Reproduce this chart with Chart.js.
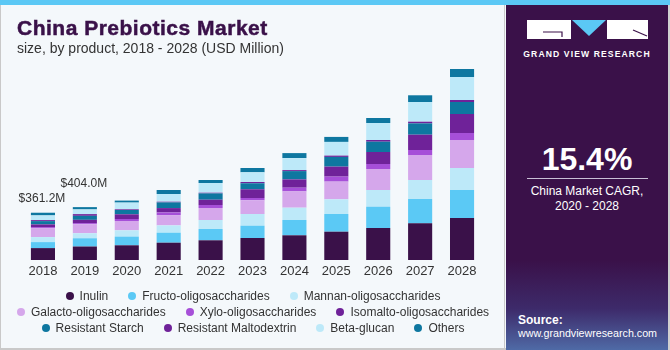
<!DOCTYPE html>
<html><head><meta charset="utf-8">
<script src="https://cdn.jsdelivr.net/npm/chart.js@4.4.1/dist/chart.umd.min.js"></script>
<style>
html,body{margin:0;padding:0;}
body{width:670px;height:350px;overflow:hidden;font-family:"Liberation Sans",Arial,sans-serif;background:#f4f8fb;}
#wrap{position:relative;width:670px;height:350px;background:#f4f8fb;}
#topbar{position:absolute;left:0;top:0;width:670px;height:5px;background:#5bc8f5;}
#lb{position:absolute;left:0;top:5px;width:1px;height:345px;background:#c9c9c9;}
#bb{position:absolute;left:0;top:348px;width:506px;height:2px;background:#c9c9c9;}
#rb{position:absolute;left:504px;top:5px;width:1px;height:345px;background:#c9c9c9;}
#title{position:absolute;left:17px;top:16px;font-size:21px;font-weight:bold;color:#3a1149;letter-spacing:0.5px;-webkit-text-stroke:0.5px #3a1149;white-space:nowrap;}
#sub{position:absolute;left:17px;top:40px;font-size:14px;color:#333;white-space:nowrap;}
#cv{position:absolute;left:0;top:0;}
#legend{position:absolute;left:8px;top:288px;width:490px;font-size:12px;color:#333;}
.row{display:flex;justify-content:center;height:16px;line-height:16px;}
.item{display:flex;align-items:center;margin:0 10px;white-space:nowrap;}
.dot{width:8px;height:8px;border-radius:50%;margin-right:6px;}
#panel{position:absolute;left:506px;top:5px;width:162px;height:345px;background:linear-gradient(to bottom,#3a1149 0%,#3a1149 74%,#3d2a6a 88%,#4f6aa6 100%);}
#rr{position:absolute;left:668px;top:5px;width:2px;height:345px;background:#d0d0d0;}
#gvr{position:absolute;left:0;top:44px;width:162px;text-align:center;color:#fff;font-size:8.6px;font-weight:bold;letter-spacing:1.1px;}
#big{position:absolute;left:0;top:136px;width:162px;text-align:center;color:#fff;font-size:32px;font-weight:bold;}
#line{position:absolute;left:21px;top:173px;width:121px;height:1px;background:#c9c0d6;}
#cagr{position:absolute;left:0;top:179px;width:162px;text-align:center;color:#fff;font-size:12px;line-height:15px;}
#src{position:absolute;left:12px;top:308px;color:#fff;font-size:12px;font-weight:bold;}
#url{position:absolute;left:12px;top:322px;color:#fff;font-size:10.7px;}
</style></head>
<body><div id="wrap">
<canvas id="cv" width="500" height="285"></canvas>
<div id="topbar"></div><div id="lb"></div><div id="bb"></div><div id="rb"></div>
<div id="title">China Prebiotics Market</div>
<div id="sub">size, by product, 2018 - 2028 (USD Million)</div>
<div id="legend"></div>
<div id="panel">
  <svg style="position:absolute;left:21px;top:15px" width="122" height="20" viewBox="0 0 122 20">
    <rect x="0" y="0" width="44" height="19" fill="#fff"/>
    <path d="M16 12 H35 V17" stroke="#3a1149" stroke-width="1.2" fill="none"/>
    <polygon points="45,0 79,0 62,16" fill="#5bc8f5"/>
    <rect x="80" y="0" width="41" height="19" fill="#fff"/>
    <path d="M106 10 L120 16" stroke="#3a1149" stroke-width="1.2" fill="none"/>
  </svg>
  <div id="gvr">GRAND VIEW RESEARCH</div>
  <div id="big">15.4%</div>
  <div id="line"></div>
  <div id="cagr">China Market CAGR,<br>2020 - 2028</div>
  <div id="src">Source:</div>
  <div id="url">www.grandviewresearch.com</div>
</div>
<div id="rr"></div>
</div>
<script>
const years = ['2018','2019','2020','2021','2022','2023','2024','2025','2026','2027','2028'];
const inulin     = [90.9, 103.0, 112.3, 132.2, 150.5, 168.1, 188.7, 216.2, 244.5, 280.4, 320.9];
const fructo     = [45.8, 63.1, 66.5, 76.4, 86.3, 94.0, 116.9, 135.2, 162.7, 185.7, 213.9];
const mannan     = [38.2, 38.2, 48.1, 55.8, 68.8, 89.4, 94.0, 112.3, 127.6, 145.2, 168.1];
const galacto    = [68.8, 69.8, 71.1, 78.7, 91.7, 104.7, 124.5, 135.2, 160.4, 191.0, 213.9];
const xylo       = [7.6, 7.6, 15.3, 20.6, 22.9, 17.6, 28.3, 38.2, 38.2, 38.2, 53.5];
const isomalto   = [20.6, 25.2, 35.9, 32.9, 40.5, 66.5, 63.4, 76.4, 91.7, 116.9, 145.2];
const resStarch  = [25.2, 30.6, 32.9, 43.5, 48.1, 45.8, 63.4, 74.1, 78.7, 86.3, 91.7];
const resMalto   = [7.6, 13.0, 5.3, 5.3, 5.3, 9.9, 7.6, 9.9, 13.0, 13.0, 15.3];
const betaGlucan = [35.9, 35.9, 51.2, 58.8, 74.1, 74.1, 91.7, 104.7, 129.9, 150.5, 175.7];
const others     = [20.6, 17.6, 15.3, 30.6, 22.9, 32.9, 38.2, 38.2, 38.2, 51.2, 61.1];
const totalLabels = ['$361.2M', '$404.0M'];
const seriesNames = ['Inulin','Fructo-oligosaccharides','Mannan-oligosaccharides','Galacto-oligosaccharides','Xylo-oligosaccharides','Isomalto-oligosaccharides','Resistant Starch','Resistant Maltodextrin','Beta-glucan','Others'];
const seriesData = [inulin, fructo, mannan, galacto, xylo, isomalto, resStarch, resMalto, betaGlucan, others];
const seriesColors = ['#3a1149','#5bc9f5','#bde9f9','#d5a7eb','#a64fd8','#6f2299','#0e77a0','#6f2299','#bde9f9','#0e77a0'];
const legendRows = [[0,1,2],[3,4,5],[6,7,8,9]];
const labelOffsets = [14, 23];

const totalsPlugin = {
  id: 'totals',
  afterDatasetsDraw(chart) {
    const ctx = chart.ctx;
    const meta = chart.getDatasetMeta(chart.data.datasets.length - 1);
    ctx.save();
    ctx.font = '12px "Liberation Sans", Arial, sans-serif';
    ctx.fillStyle = '#333';
    ctx.textAlign = 'center';
    ctx.textBaseline = 'middle';
    totalLabels.forEach((t, i) => {
      const el = meta.data[i];
      ctx.fillText(t, el.x - 1, el.y - labelOffsets[i]);
    });
    ctx.restore();
  }
};

const chart = new Chart(document.getElementById('cv'), {
  type: 'bar',
  data: {
    labels: years,
    datasets: seriesNames.map((n, i) => ({
      label: n, data: seriesData[i], backgroundColor: seriesColors[i], borderWidth: 0,
      barPercentage: 0.575, categoryPercentage: 1.0
    }))
  },
  options: {
    responsive: false, animation: false, devicePixelRatio: 1,
    layout: { padding: { left: 22, right: 17, top: 60, bottom: 0 } },
    plugins: { legend: { display: false }, tooltip: { enabled: false } },
    scales: {
      x: {
        stacked: true,
        grid: { display: false, drawTicks: false },
        border: { display: false },
        ticks: { color: '#333', font: { family: '"Liberation Sans", Arial, sans-serif', size: 13 }, padding: 4 },
        afterFit: s => { s.height = 25; }
      },
      y: { stacked: true, display: false, min: 0, max: 1528 }
    }
  },
  plugins: [totalsPlugin]
});

const lg = document.getElementById('legend');
legendRows.forEach(r => {
  const row = document.createElement('div'); row.className = 'row';
  r.forEach(i => {
    const it = document.createElement('div'); it.className = 'item';
    const d = document.createElement('span'); d.className = 'dot'; d.style.background = chart.data.datasets[i].backgroundColor;
    const t = document.createElement('span'); t.textContent = chart.data.datasets[i].label;
    it.appendChild(d); it.appendChild(t); row.appendChild(it);
  });
  lg.appendChild(row);
});
</script>
</body></html>
